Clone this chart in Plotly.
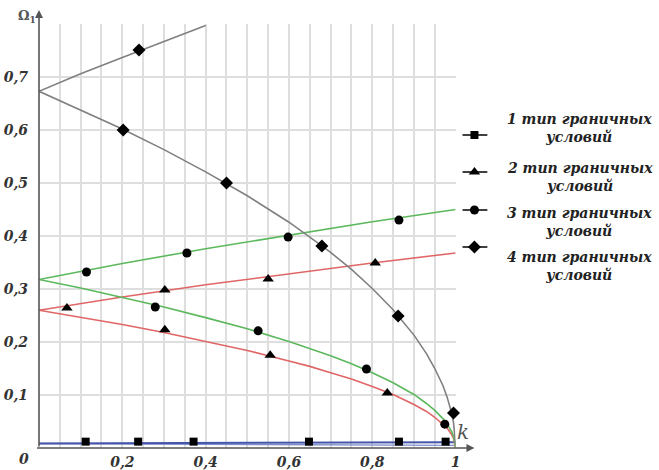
import plotly.graph_objects as go

# ---------------- data ----------------
# type 4 (gray)
k4_up = [0, 0.1, 0.2, 0.3, 0.4]
w4_up = [0.673, 0.706, 0.737, 0.767, 0.797]
k_low = [0, 0.1, 0.2, 0.3, 0.4, 0.5, 0.6, 0.65, 0.7, 0.75, 0.8, 0.85, 0.9, 0.93, 0.95, 0.97, 0.98, 0.99, 0.995, 1.0]
w4_low = [0.673, 0.638, 0.602, 0.563, 0.521, 0.476, 0.426, 0.398, 0.369, 0.337, 0.301, 0.261, 0.213, 0.178,
          0.150, 0.117, 0.095, 0.067, 0.048, 0.005]
m4_k = [0.24, 0.202, 0.45, 0.679, 0.862, 0.995]
m4_w = [0.751, 0.600, 0.500, 0.381, 0.249, 0.066]

# type 3 (green)
k_up = [0, 0.2, 0.4, 0.6, 0.8, 1.0]
w3_up = [0.318, 0.348, 0.376, 0.402, 0.427, 0.450]
w3_low = [0.318, 0.302, 0.284, 0.266, 0.246, 0.225, 0.201, 0.188, 0.174, 0.159, 0.142, 0.123, 0.101, 0.084,
          0.071, 0.055, 0.045, 0.032, 0.022, 0.0]
m3_k = [0.114, 0.355, 0.598, 0.864, 0.279, 0.526, 0.786, 0.974]
m3_w = [0.332, 0.368, 0.398, 0.430, 0.266, 0.221, 0.149, 0.045]

# type 2 (red)
w2_up = [0.260, 0.285, 0.308, 0.329, 0.349, 0.368]
w2_low = [0.260, 0.247, 0.233, 0.218, 0.201, 0.184, 0.164, 0.154, 0.142, 0.130, 0.116, 0.101, 0.082, 0.069,
          0.058, 0.045, 0.037, 0.026, 0.018, 0.0]
m2_k = [0.067, 0.302, 0.550, 0.807, 0.302, 0.555, 0.836]
m2_w = [0.264, 0.298, 0.319, 0.349, 0.223, 0.175, 0.104]

# type 1 (blue)
k1 = [0, 0.5, 1.0]
w1_up = [0.0085, 0.0095, 0.011]
w1_low = [0.0085, 0.007, 0.005]
m1_k = [0.112, 0.238, 0.371, 0.648, 0.864, 0.976]
m1_w = [0.012, 0.012, 0.012, 0.012, 0.012, 0.012]

x_ticks = [0.2, 0.4, 0.6, 0.8, 1.0]
x_ticktext = ["0,2", "0,4", "0,6", "0,8", "1"]
y_ticks = [0.1, 0.2, 0.3, 0.4, 0.5, 0.6, 0.7]
y_ticktext = ["0,1", "0,2", "0,3", "0,4", "0,5", "0,6", "0,7"]

legend_labels = ["1 тип граничных<br>условий", "2 тип граничных<br>условий",
                 "3 тип граничных<br>условий", "4 тип граничных<br>условий"]

# ---------------- style ----------------
GRAY = "#808080"
GREEN = "#5cb85c"
RED = "#e06666"
BLUE = "#4455aa"
FONT = "DejaVu Serif"
PW = 620.0   # paper (plot-area) width in px
PH = 424.0   # paper height in px

fig = go.Figure()

def line(x, y, color, width=1.6):
    fig.add_trace(go.Scatter(x=x, y=y, mode="lines", line=dict(color=color, width=width),
                             showlegend=False, hoverinfo="skip"))

def marks(x, y, symbol, size):
    fig.add_trace(go.Scatter(x=x, y=y, mode="markers",
                             marker=dict(symbol=symbol, size=size, color="black"),
                             showlegend=False, cliponaxis=False))

line(k1, w1_low, "#8090cc", 1.4)
line(k1, w1_up, BLUE, 2)
line(k_up, w2_up, RED)
line(k_low, w2_low, RED)
line(k_up, w3_up, GREEN)
line(k_low, w3_low, GREEN)
line(k4_up, w4_up, GRAY)
line(k_low, w4_low, GRAY)

marks(m1_k, m1_w, "square", 8)
marks(m2_k, m2_w, "triangle-up", 10)
marks(m3_k, m3_w, "circle", 9)
marks(m4_k, m4_w, "diamond", 10)

# ---------------- legend (pixel-like secondary axes) ----------------
leg_y = [135, 172, 210, 247]
leg_sym = ["square", "triangle-up", "circle", "diamond"]
leg_size = [8, 10, 9, 10]
text_y = [128, 177, 222, 266]
for yy, sym, sz in zip(leg_y, leg_sym, leg_size):
    fig.add_trace(go.Scatter(x=[466, 491], y=[yy, yy], mode="lines", xaxis="x2", yaxis="y2",
                             line=dict(color="black", width=1.5), showlegend=False, hoverinfo="skip"))
    fig.add_trace(go.Scatter(x=[478], y=[yy], mode="markers", xaxis="x2", yaxis="y2",
                             marker=dict(symbol=sym, size=sz, color="black"),
                             showlegend=False, hoverinfo="skip"))

annotations = []
for ty, lab in zip(text_y, legend_labels):
    annotations.append(dict(xref="x2", yref="y2", x=584, y=ty, text=lab, showarrow=False,
                            align="center", xanchor="center", yanchor="middle",
                            font=dict(family=FONT, size=14, color="#222", weight="bold", style="italic")))

# axes arrows
annotations.append(dict(xref="paper", yref="paper", x=(478 - 39) / PW, y=0, ax=-(478 - 39), ay=0,
                        axref="pixel", ayref="pixel", text="", showarrow=True,
                        arrowhead=2, arrowsize=1, arrowwidth=1.6, arrowcolor="#555"))
annotations.append(dict(xref="paper", yref="paper", x=0, y=(448 - 10) / PH, ax=0, ay=438,
                        text="", showarrow=True,
                        arrowhead=2, arrowsize=1, arrowwidth=1.6, arrowcolor="#555"))
# axis titles
annotations.append(dict(xref="paper", yref="paper", x=(27 - 39) / PW, y=(448 - 16) / PH,
                        text="Ω<sub>1</sub>", showarrow=False, xanchor="center", yanchor="middle",
                        font=dict(family=FONT, size=13, color="#555", weight="bold")))
annotations.append(dict(xref="paper", yref="paper", x=(466 - 39) / PW, y=(448 - 432) / PH,
                        text="k", showarrow=False, xanchor="center", yanchor="middle",
                        font=dict(family=FONT, size=20, color="#555", style="italic")))
annotations.append(dict(xref="paper", yref="paper", x=(24 - 39) / PW, y=(448 - 459) / PH,
                        text="0", showarrow=False, xanchor="center", yanchor="middle",
                        font=dict(family=FONT, size=14, color="#333", weight="bold", style="italic")))

tickfont = dict(family=FONT, size=14, color="#333", weight="bold", style="italic")
fig.update_layout(
    width=659, height=470,
    margin=dict(l=39, r=0, t=24, b=22),
    paper_bgcolor="white", plot_bgcolor="white",
    xaxis=dict(domain=[0, 420 / PW], range=[0, 1], showgrid=True, gridcolor="#dedede", gridwidth=1.5,
               tick0=0, dtick=0.05, showticklabels=False, zeroline=False, showline=False, ticks=""),
    xaxis3=dict(domain=[0, 420 / PW], range=[0, 1], overlaying="x", tickvals=x_ticks,
                ticktext=x_ticktext, tickfont=tickfont, showgrid=False, zeroline=False, ticks="",
                anchor="y", ticklabelstandoff=4),
    yaxis=dict(domain=[0, 1], range=[0, 0.8], showgrid=True, gridcolor="#dedede", gridwidth=1.5,
               tickvals=y_ticks, ticktext=y_ticktext, tickfont=tickfont, zeroline=False,
               showline=False, ticks="", ticklabelstandoff=10),
    xaxis2=dict(domain=[420 / PW, 1], range=[459, 659], visible=False),
    yaxis2=dict(domain=[0, 1], range=[448, 24], visible=False, anchor="x2"),
    annotations=annotations,
)
# invisible trace so tick labels of xaxis3 render
fig.add_trace(go.Scatter(x=[0], y=[0], xaxis="x3", yaxis="y", mode="markers",
                         marker=dict(size=0, opacity=0), showlegend=False, hoverinfo="skip"))

fig.write_html("out.html")
